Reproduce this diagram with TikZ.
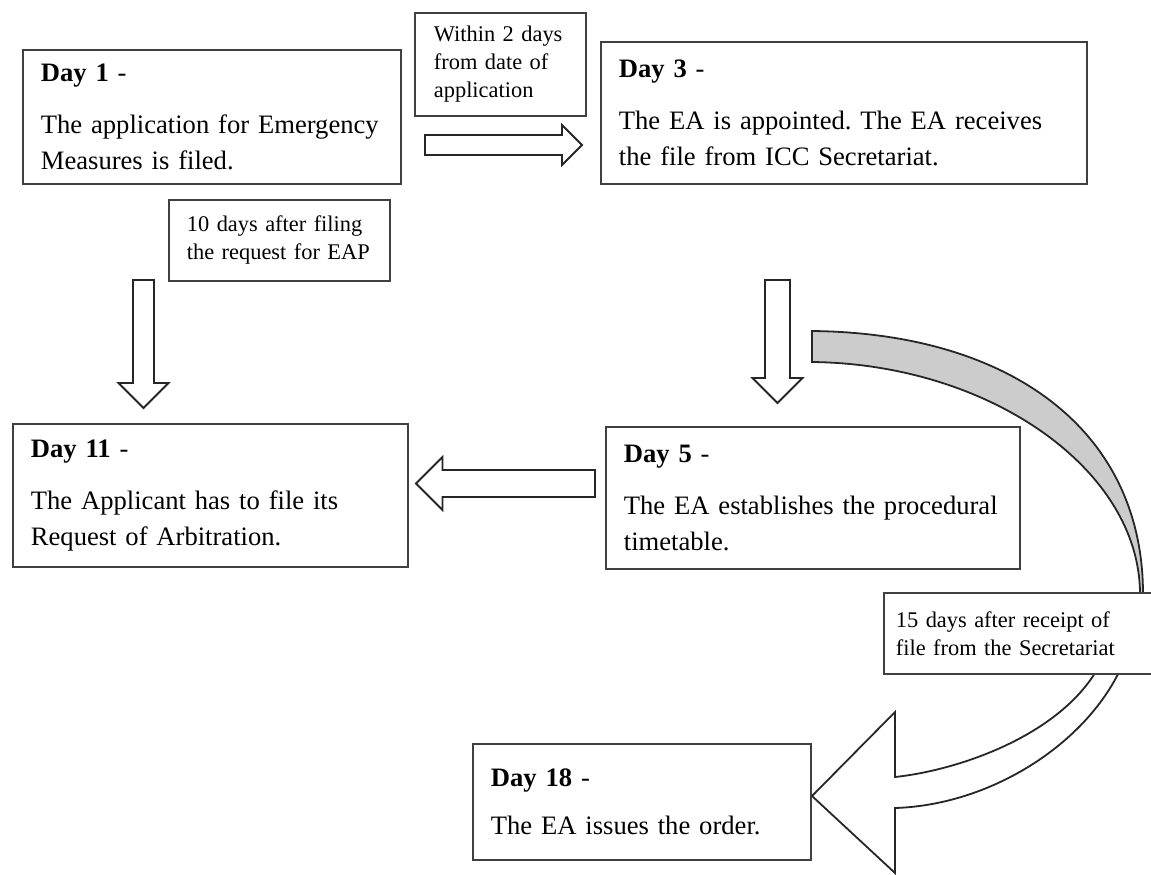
\documentclass[tikz,border=0pt]{standalone}
\usepackage{fontspec}
\setmainfont{Liberation Serif}
\usetikzlibrary{calc}
\frenchspacing
\newcommand{\bigtxt}{\fontsize{13.3}{18}\selectfont}
\newcommand{\smalltxt}{\fontsize{11.2}{14}\selectfont}
\newcommand{\blockarr}[5]{\begin{scope}[shift={#1},rotate=#2]
  \draw[arrowline] (0,-#4)--({#3-#5},-#4)--({#3-#5},-#5)--(#3,0)--({#3-#5},#5)--({#3-#5},#4)--(0,#4)--cycle;\end{scope}}
\begin{document}
\begin{tikzpicture}[x=0.5pt,y=-0.5pt,
  daybox/.style={draw=black!75,line width=0.9pt,fill=white,anchor=north west,align=left,inner xsep=9pt,inner ysep=0pt,font=\bigtxt},
  notebox/.style={draw=black!75,line width=0.9pt,fill=white,anchor=north west,align=left,inner ysep=0pt,font=\smalltxt},
  arrowline/.style={draw=black!85,line width=0.9pt,fill=white,line join=miter}]
\useasboundingbox (0,0) rectangle (1151,874);
% curved arrows first, boxes go on top of their ends
\draw[arrowline,fill=gray!40] (812,331) .. controls (1010,333) and (1143,430) .. (1143,594)
  -- (1140,594) .. controls (1140,470) and (990,364) .. (812,362) -- cycle;
\draw[arrowline] (1098,668) .. controls (1060,735) and (960,770) .. (895,777) -- (895,712) -- (812,796)
  -- (895,873) -- (895,808) .. controls (990,805) and (1085,745) .. (1121,668) -- cycle;
% day boxes
\node[daybox,text width=171pt,minimum height=67pt] (day1) at (22,49)
  {\textbf{Day 1} -\\[8pt]The application for Emergency\\Measures is filed.};
\node[daybox,text width=225pt,minimum height=71pt] (day3) at (600,41)
  {\textbf{Day 3} -\\[8pt]The EA is appointed. The EA receives\\the file from ICC Secretariat.};
\node[daybox,text width=179.5pt,minimum height=71.5pt] (day11) at (12,423)
  {\textbf{Day 11} -\\[8pt]The Applicant has to file its\\Request of Arbitration.};
\node[daybox,text width=189pt,minimum height=71pt] (day5) at (605,426)
  {\textbf{Day 5} -\\[8pt]The EA establishes the procedural\\timetable.};
\node[daybox,text width=151pt,minimum height=58pt] (day18) at (472,743)
  {\textbf{Day 18} -\\[6pt]The EA issues the order.};
% notes
\node[notebox,inner xsep=9.5pt,text width=66.5pt,minimum height=51.5pt] (within) at (414,12)
  {Within 2 days\\from date of\\application};
\node[notebox,inner xsep=9pt,text width=92.5pt,minimum height=40.5pt] (tendays) at (168,199)
  {10 days after filing\\the request for EAP};
\node[notebox,inner xsep=6pt,text width=122pt,minimum height=40.5pt] (fifteen) at (883,592)
  {15 days after receipt of\\file from the Secretariat};
% straight block arrows
\blockarr{(425,145)}{0}{157}{10}{20}
\blockarr{(143.5,280)}{-90}{128}{10.5}{25}
\blockarr{(595,483.5)}{180}{179}{13.5}{26.5}
\blockarr{(777.5,280)}{-90}{123}{12.5}{25}
\end{tikzpicture}
\end{document}
